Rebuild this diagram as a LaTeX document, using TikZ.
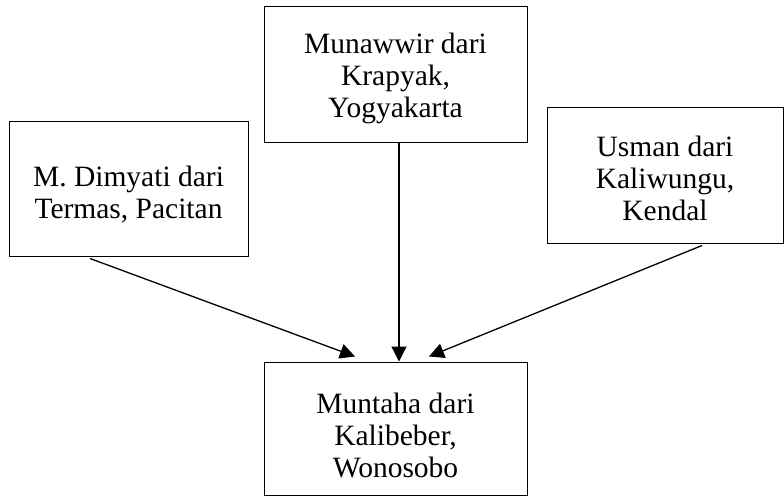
\documentclass[tikz,border=0pt]{standalone}
\usepackage{fontspec}
\setmainfont{Liberation Serif}
\usetikzlibrary{arrows.meta}
\begin{document}
\begin{tikzpicture}[x=1pt,y=-1pt,
  box/.style={draw, line width=1pt, inner sep=0pt},
  txt/.style={inner sep=0pt, align=center, anchor=base,
    font=\fontsize{29.5}{32}\selectfont},
  conn/.style={line width=1.3pt, -{Triangle[length=15pt,width=15pt]}}]
\useasboundingbox (0,0) rectangle (784,496);
\node[box, minimum width=239pt, minimum height=135pt] (L) at (128.5,188.5) {};
\node[box, minimum width=263pt, minimum height=136pt] (M) at (395.5,74) {};
\node[box, minimum width=236pt, minimum height=136pt] (R) at (665,175) {};
\node[box, minimum width=263pt, minimum height=133pt] (B) at (395.5,428.5) {};
\node[txt] (Lt) at (128.5,218) {M. Dimyati dari\\Termas, Pacitan};
\node[txt] (Mt) at (395.5,117) {Munawwir dari\\Krapyak,\\Yogyakarta};
\node[txt] (Rt) at (665,220) {Usman dari\\Kaliwungu,\\Kendal};
\node[txt] (Bt) at (395.5,477) {Muntaha dari\\Kalibeber,\\Wonosobo};
\draw[conn] ([xshift=-38.5pt,yshift=-2pt]L.south) -- ([xshift=-40.5pt,yshift=5pt]B.north);
\draw[conn] ([xshift=3.5pt]M.south) -- ([xshift=3.5pt]B.north);
\draw[conn] ([xshift=37pt,yshift=-2pt]R.south) -- ([xshift=33.5pt,yshift=5pt]B.north);
\end{tikzpicture}
\end{document}
